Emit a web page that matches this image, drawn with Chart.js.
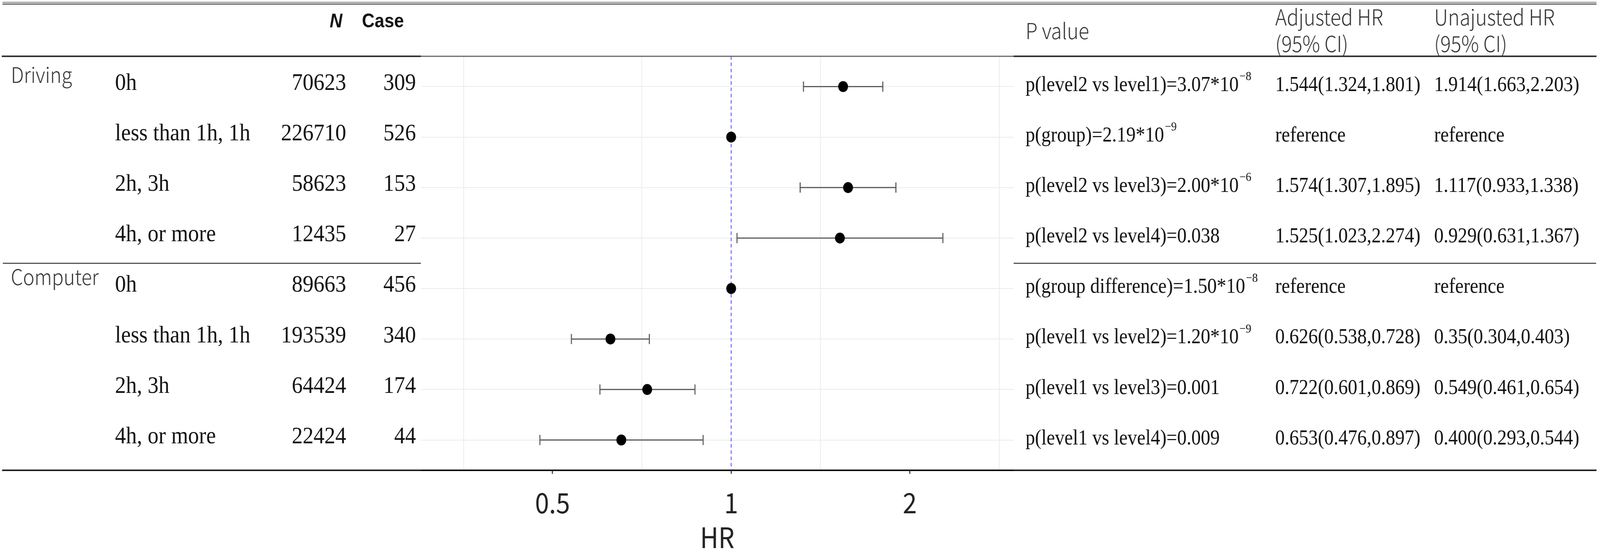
<!DOCTYPE html>
<html>
<head>
<meta charset="utf-8">
<script src="https://cdn.jsdelivr.net/npm/chart.js@4.4.1/dist/chart.umd.min.js"></script>
<style>
  html, body { margin: 0; padding: 0; background: #fff; overflow: hidden; }
  canvas { display: block; }
</style>
</head>
<body>
<canvas id="forest" width="4562" height="1412" style="width:100vw;height:100vh"></canvas>
<script>
const groupLabels = ["Driving", "Computer"];
const groupFirstRow = [1, 5];
const rowLabels = ["0h", "less than 1h, 1h", "2h, 3h", "4h, or more", "0h", "less than 1h, 1h", "2h, 3h", "4h, or more"];
const nValues = [70623, 226710, 58623, 12435, 89663, 193539, 64424, 22424];
const caseValues = [309, 526, 153, 27, 456, 340, 174, 44];
const pTexts = ["p(level2 vs level1)=3.07*10", "p(group)=2.19*10", "p(level2 vs level3)=2.00*10", "p(level2 vs level4)=0.038",
  "p(group difference)=1.50*10", "p(level1 vs level2)=1.20*10", "p(level1 vs level3)=0.001", "p(level1 vs level4)=0.009"];
const pExponents = ["\u22128", "\u22129", "\u22126", null, "\u22128", "\u22129", null, null];
const adjHR = [1.544, 1, 1.574, 1.525, 1, 0.626, 0.722, 0.653];
const adjLow = [1.324, null, 1.307, 1.023, null, 0.538, 0.601, 0.476];
const adjHigh = [1.801, null, 1.895, 2.274, null, 0.728, 0.869, 0.897];
const unadjTexts = ["1.914(1.663,2.203)", "reference", "1.117(0.933,1.338)", "0.929(0.631,1.367)",
  "reference", "0.35(0.304,0.403)", "0.549(0.461,0.654)", "0.400(0.293,0.544)"];
const xTickValues = [0.354, 0.5, 0.707, 1, 1.414, 2, 2.828];
const xTickLabels = ["", "0.5", "", "1", "", "2", ""];

const rowsY = rowLabels.map((_, i) => i + 1);
const SANS = '"Noto Sans CJK JP", "Noto Sans", sans-serif';
const SERIF = '"Liberation Serif", "DejaVu Serif", serif';
const W = 4562;

function hline(ctx, x1, x2, y, w, color) {
  ctx.beginPath();
  ctx.moveTo(x1, y);
  ctx.lineTo(x2, y);
  ctx.lineWidth = w;
  ctx.strokeStyle = color;
  ctx.stroke();
}

const tablePlugin = {
  id: "forestTable",
  afterDraw(chart) {
    const ctx = chart.ctx;
    const ys = chart.scales.y;
    const area = chart.chartArea;
    ctx.save();

    // rules
    hline(ctx, 7, W - 10, 6, 3, "#999");
    hline(ctx, 7, W - 10, 10.5, 3, "#666");
    hline(ctx, 5, area.left, area.top, 4, "#333");
    hline(ctx, area.left, area.right, area.top, 3, "#666");
    hline(ctx, area.right, W - 10, area.top, 4, "#333");
    const sepY = (ys.getPixelForValue(4) + ys.getPixelForValue(5)) / 2;
    hline(ctx, 8, area.left, sepY, 3, "#555");
    hline(ctx, area.right, W - 11, sepY, 3, "#555");
    hline(ctx, 6, area.left, area.bottom, 4, "#222");
    hline(ctx, area.right, W - 10, area.bottom, 4, "#222");

    // header
    ctx.fillStyle = "#111";
    ctx.textBaseline = "middle";
    ctx.font = "italic bold 50px 'Liberation Sans', Arial, sans-serif";
    ctx.textAlign = "right";
    ctx.fillText("N", 976, 56);
    ctx.font = "bold 50px 'Liberation Sans', Arial, sans-serif";
    ctx.textAlign = "left";
    ctx.fillText("Case", 1032, 56);

    ctx.fillStyle = "#333";
    ctx.font = "300 56px " + SANS;
    ctx.fillText("P value", 2924, 79);
    ctx.fillText("Adjusted HR", 3636, 44);
    ctx.fillText("(95% CI)", 3636, 112);
    ctx.fillText("Unajusted HR", 4089, 44);
    ctx.fillText("(95% CI)", 4089, 112);

    // group labels
    ctx.font = "300 55px " + SANS;
    ctx.textBaseline = "alphabetic";
    groupLabels.forEach((g, k) => {
      ctx.fillText(g, 31, ys.getPixelForValue(groupFirstRow[k]) - 9);
    });

    // left table
    ctx.fillStyle = "#111";
    ctx.textBaseline = "middle";
    ctx.font = "62px " + SERIF;
    rowLabels.forEach((lab, i) => {
      const y = ys.getPixelForValue(rowsY[i]) - 8;
      ctx.textAlign = "left";
      ctx.fillText(lab, 328, y);
      ctx.textAlign = "right";
      ctx.fillText(String(nValues[i]), 987, y);
      ctx.fillText(String(caseValues[i]), 1186, y);
    });

    // right table
    rowLabels.forEach((_, i) => {
      const y = ys.getPixelForValue(rowsY[i]) - 3;
      ctx.textAlign = "left";
      ctx.textBaseline = "middle";
      ctx.font = "54px " + SERIF;
      ctx.fillText(pTexts[i], 2924, y);
      if (pExponents[i]) {
        const w = ctx.measureText(pTexts[i]).width;
        ctx.font = "32px " + SERIF;
        ctx.fillText(pExponents[i], 2924 + w + 2, y - 22);
        ctx.font = "54px " + SERIF;
      }
      const adj = adjLow[i] == null ? "reference"
        : adjHR[i].toFixed(3) + "(" + adjLow[i].toFixed(3) + "," + adjHigh[i].toFixed(3) + ")";
      ctx.fillText(adj, 3636, y);
      ctx.fillText(unadjTexts[i], 4089, y);
    });

    ctx.restore();
  }
};

const datasets = [];
datasets.push({
  type: "scatter",
  data: adjHR.map((v, i) => ({ x: v, y: rowsY[i] })),
  pointRadius: 14,
  pointBackgroundColor: "#000",
  pointBorderWidth: 0,
  order: 0
});
adjLow.forEach((lo, i) => {
  if (lo == null) return;
  datasets.push({
    type: "line",
    data: [{ x: lo, y: rowsY[i] }, { x: adjHigh[i], y: rowsY[i] }],
    borderColor: "#5a5a5a",
    borderWidth: 3,
    pointStyle: "line",
    pointRotation: 90,
    pointRadius: 13,
    pointBorderColor: "#5a5a5a",
    pointBorderWidth: 3,
    order: 1
  });
});
datasets.push({
  type: "line",
  data: [{ x: 1, y: 0.4 }, { x: 1, y: 8.6 }],
  borderColor: "#3b3bff",
  borderWidth: 2,
  borderDash: [9, 7],
  pointRadius: 0,
  order: 2
});

new Chart(document.getElementById("forest"), {
  type: "scatter",
  data: { datasets: datasets },
  plugins: [tablePlugin],
  options: {
    responsive: false,
    devicePixelRatio: 1,
    animation: false,
    layout: { padding: { left: 1200, right: W - 2890, top: 144, bottom: 0 } },
    plugins: { legend: { display: false }, tooltip: { enabled: false } },
    scales: {
      x: {
        type: "logarithmic",
        min: 0.3418,
        max: 2.992,
        afterBuildTicks: (s) => { s.ticks = xTickValues.map((v) => ({ value: v })); },
        afterFit: (s) => { s.height = 209; },
        ticks: {
          autoSkip: false,
          maxRotation: 0,
          padding: 38,
          color: "#222",
          font: { family: SANS, size: 72, lineHeight: 1 },
          callback: (v, i) => xTickLabels[i]
        },
        grid: {
          color: (c) => (xTickLabels[c.index] === "" ? "#ebebeb" : "rgba(0,0,0,0)"),
          lineWidth: 2,
          tickLength: 9,
          tickWidth: 3,
          tickColor: (c) => (xTickLabels[c.index] ? "#333" : "rgba(0,0,0,0)")
        },
        border: { display: true, color: "#111", width: 4 },
        title: {
          display: true,
          text: "HR",
          color: "#222",
          font: { family: SANS, size: 72, lineHeight: 1 },
          padding: { top: 0, bottom: 1 }
        }
      },
      y: {
        type: "linear",
        min: 0.4,
        max: 8.6,
        reverse: true,
        afterBuildTicks: (s) => { s.ticks = rowsY.map((v) => ({ value: v })); },
        afterFit: (s) => { s.width = 0; },
        ticks: { display: false },
        grid: { color: "#ebebeb", lineWidth: 2, drawTicks: false },
        border: { display: false }
      }
    }
  }
});
</script>
</body>
</html>
